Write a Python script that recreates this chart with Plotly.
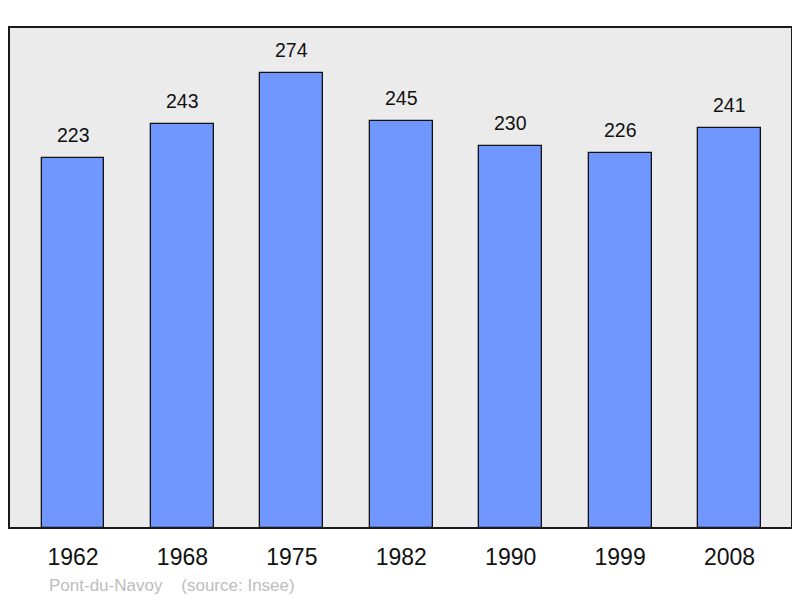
import plotly.graph_objects as go

years = ["1962", "1968", "1975", "1982", "1990", "1999", "2008"]
population = [223, 243, 274, 245, 230, 226, 241]
title_note = "Pont-du-Navoy    (source: Insee)"

positions = list(range(len(years)))

# page is offset by 8px body margin; geometry compensates
PAGE_OFF = 8
plot_left, plot_right, plot_top, plot_bottom = 9, 792, 27, 528
fig_w, fig_h = 786, 590
ml = plot_left - PAGE_OFF
mt = plot_top - PAGE_OFF
mr = fig_w - (plot_right - PAGE_OFF)
mb = fig_h - (plot_bottom - PAGE_OFF)
plot_h = plot_bottom - plot_top
plot_w = plot_right - plot_left

FONT = "Liberation Sans, Arial, sans-serif"

fig = go.Figure()
fig.add_trace(go.Bar(
    x=positions,
    y=population,
    width=0.575,
    marker=dict(color="#7097ff", line=dict(color="#111111", width=1.3)),
    hoverinfo="skip",
))

for xp, v in zip(positions, population):
    fig.add_annotation(x=xp, y=v, text=str(v), showarrow=False,
                       yanchor="bottom", yshift=10,
                       font=dict(family=FONT, size=19.5, color="#111111"))

fig.add_annotation(xref="paper", yref="paper", x=(47 - plot_left) / plot_w,
                   y=-(585 - plot_bottom) / plot_h,
                   xanchor="left", yanchor="middle", showarrow=False,
                   text=title_note,
                   font=dict(family=FONT, size=17, color="#bdbdbd"))

fig.add_shape(type="rect", xref="paper", yref="paper", x0=0, y0=0, x1=1, y1=1,
              line=dict(color="#1a1a1a", width=2), fillcolor="rgba(0,0,0,0)", layer="above")

fig.update_layout(
    width=fig_w, height=fig_h,
    margin=dict(l=ml, r=mr, t=mt, b=mb, pad=0),
    paper_bgcolor="white",
    plot_bgcolor="#ebebeb",
    showlegend=False,
    bargap=0,
    xaxis=dict(
        tickmode="array", tickvals=positions, ticktext=years,
        range=[-0.585, 6.571], showgrid=False, zeroline=False, showline=False,
        ticks="", ticklabelstandoff=13,
        tickfont=dict(family=FONT, size=23, color="#111111"),
        fixedrange=True,
    ),
    yaxis=dict(range=[0, 301.7], showgrid=False, zeroline=False, showline=False,
               showticklabels=False, ticks="", fixedrange=True),
)

fig.write_html("out.html")
